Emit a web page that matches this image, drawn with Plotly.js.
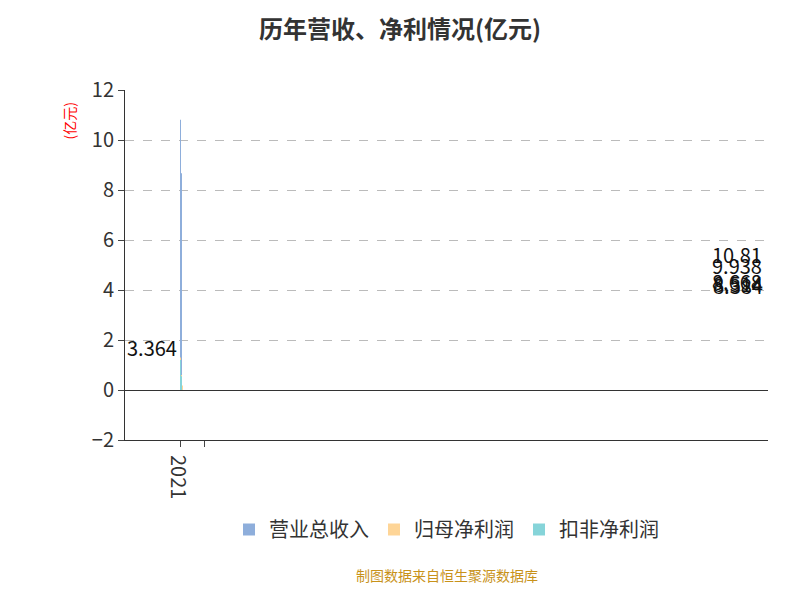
<!DOCTYPE html>
<html>
<head>
<meta charset="utf-8">
<script src="https://cdn.plot.ly/plotly-3.0.1.min.js"></script>
<style>body{margin:0}#container{width:800px;height:600px}</style>
</head>
<body>
<div id="container"></div>
<script>
var years = ['2021', '2022', '2023', '2024', '2025', '2026H1'];
var revenue = [10.81, 9.938, 8.668, 8.514, 8.384, 3.364];
var netProfit = [1.3, 0.48, 0.5, 0.6, 0.12, 0.18];
var deductedProfit = [1.2, 0.45, 0.45, 0.55, 0.12, null];
var revenueLabels = ['10.81', '9.938', '8.668', '8.514', '8.384', '3.364'];

var font = 'Noto Sans CJK SC, Noto Sans, sans-serif';

var traces = [
  {name: '营业总收入', x: years, y: revenue, type: 'bar', marker: {color: '#8eaedb'}},
  {name: '归母净利润', x: years, y: netProfit, type: 'bar', marker: {color: '#fed597'}},
  {name: '扣非净利润', x: years, y: deductedProfit, type: 'bar', marker: {color: '#86d4d9'}}
];

var annotations = years.map(function (yr, i) {
  return {x: yr, y: revenue[i] / 2, text: revenueLabels[i], showarrow: false,
    xshift: -30, font: {size: 20, color: '#111'}};
});
annotations.push({xref: 'paper', yref: 'paper', x: 0.5, y: -0.42, text: '制图数据来自恒生聚源数据库',
  showarrow: false, font: {size: 14, color: '#c8921a'}});
annotations.push({xref: 'paper', yref: 'paper', x: -0.105, y: 0.97, text: '(亿元)', textangle: -90,
  showarrow: false, font: {size: 14, color: 'red'}});

var layout = {
  width: 800, height: 600,
  font: {family: font, color: '#333'},
  title: {text: '<b>历年营收、净利情况(亿元)</b>', x: 0.5, y: 0.965, font: {size: 24, color: '#333'}},
  margin: {l: 125, r: 32, t: 90, b: 160},
  bargap: 0.12, bargroupgap: 0.03,
  xaxis: {type: 'category', tickfont: {size: 20}, showline: true, linecolor: '#333', ticks: 'outside',
    tickson: 'boundaries', ticklen: 6},
  yaxis: {range: [-2, 12], dtick: 2, tickfont: {size: 20}, showline: true, linecolor: '#333',
    ticks: 'outside', ticklen: 6, showgrid: true, gridcolor: '#bbb', griddash: 'dash',
    zeroline: true, zerolinecolor: '#333', tickformat: 'd'},
  legend: {orientation: 'h', x: 0.5, xanchor: 'center', y: -0.2, font: {size: 20}},
  annotations: annotations,
  plot_bgcolor: '#fff', paper_bgcolor: '#fff'
};

Plotly.newPlot('container', traces, layout, {displayModeBar: false});
</script>
</body>
</html>
